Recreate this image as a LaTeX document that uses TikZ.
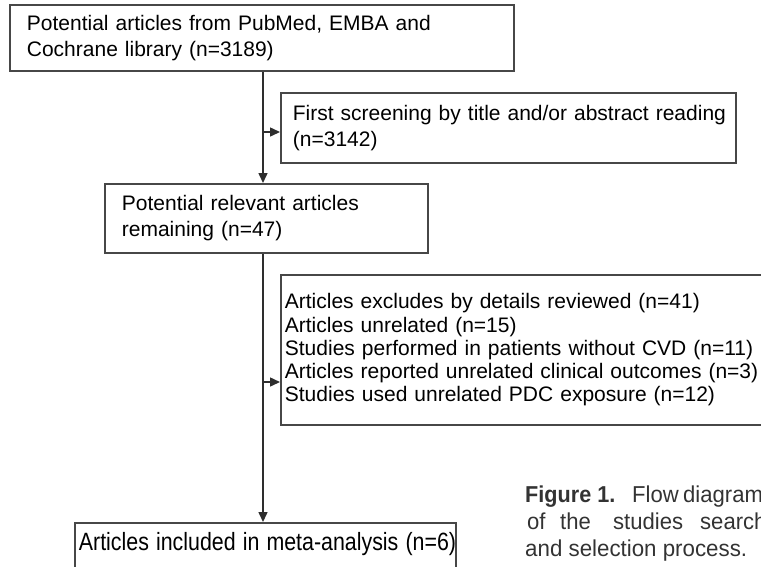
\documentclass[tikz,border=0pt]{standalone}
\usepackage{fontspec}
\setmainfont{Liberation Sans}
\usetikzlibrary{arrows.meta}
\begin{document}
\begin{tikzpicture}[x=1pt,y=-1pt,
 box/.style={draw=black!72, line width=1.8pt, fill=white, anchor=north west, align=left, inner ysep=0pt, font=\fontsize{21}{26}\selectfont},
 arr/.style={draw=black!82, line width=1.5pt, -{Triangle[length=10pt,width=9pt]}},
 captxt/.style={anchor=base west, inner sep=0pt, text=black!80, font=\fontsize{23}{28}\selectfont}]
\useasboundingbox (0,0) rectangle (761,566);
\clip (0,0) rectangle (761,566);
\node[box, text width=470pt, inner xsep=17pt, minimum height=66pt] (b1) at (9,4)
  {\mbox{Potential articles from PubMed, EMBA and}\\Cochrane library (n=3189)};
\node[box, text width=431pt, inner xsep=12pt, minimum height=70pt] (b2) at (280,92)
  {\mbox{First screening by title and/or abstract reading}\\(n=3142)};
\node[box, text width=289pt, inner xsep=17pt, minimum height=69pt] (b3) at (104,183)
  {Potential relevant articles\\remaining (n=47)};
\node[box, text width=512pt, inner xsep=4pt, minimum height=150pt, font=\fontsize{21}{23.3}\selectfont] (b4) at (280,274)
  {\mbox{Articles excludes by details reviewed (n=41)}\\Articles unrelated (n=15)\\\mbox{Studies performed in patients without CVD (n=11)}\\\mbox{Articles reported unrelated clinical outcomes (n=3)}\\\mbox{Studies used unrelated PDC exposure (n=12)}};
\node[box, text width=373pt, inner xsep=4pt, text height=28pt, text depth=20pt, font=\fontsize{25}{28}\selectfont] (b5) at (74,522)
  {\scalebox{0.855}[1]{Articles included in meta-analysis (n=6)}};
\coordinate (spine) at (263,0);
\coordinate (j1) at (263,132);
\coordinate (j2) at (263,382);
\draw[arr] (b1.south -| spine) -- (b3.north -| spine);
\draw[arr] (j1) -- (j1 -| b2.west);
\draw[arr] (b3.south -| spine) -- (b5.north -| spine);
\draw[arr] (j2) -- (j2 -| b4.west);
\node[captxt, font=\fontsize{23}{28}\selectfont\bfseries] (c1) at (525,502) {\scalebox{0.94}[1]{Figure 1.}};
\node[captxt] (c2) at (632,502) {\scalebox{0.96}[1]{Flow}};
\node[captxt] (c3) at (683,502) {\scalebox{0.96}[1]{diagram}};
\node[captxt] (c4) at (527,529) {\scalebox{0.96}[1]{of}};
\node[captxt] (c5) at (560,529) {\scalebox{0.96}[1]{the}};
\node[captxt] (c6) at (613,529) {\scalebox{0.96}[1]{studies}};
\node[captxt] (c7) at (700,529) {\scalebox{0.96}[1]{searched}};
\node[captxt] (c8) at (525,556) {\scalebox{0.97}[1]{and selection process.}};
\end{tikzpicture}
\end{document}
